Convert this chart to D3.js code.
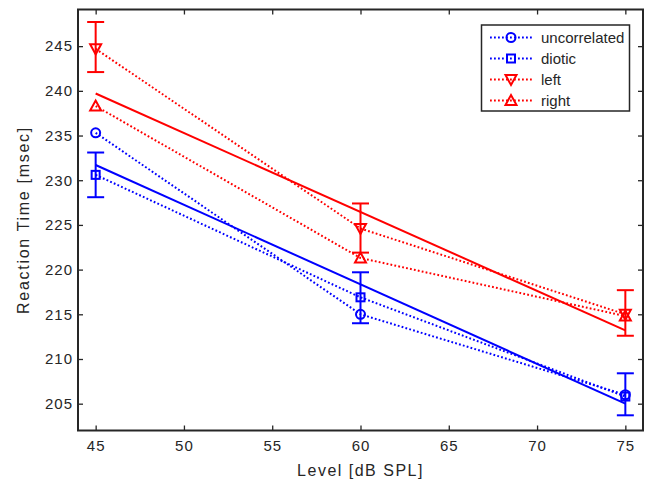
<!DOCTYPE html>
<html><head><meta charset="utf-8">
<script src="https://cdn.jsdelivr.net/npm/d3@7"></script>
<style>body{margin:0;background:#fff}svg{display:block}text{font-family:"Liberation Sans",Arial,Helvetica,sans-serif;fill:#262626}</style>
</head><body><svg id="c" width="649" height="485"></svg>
<script>
const levels = [45, 60, 75];
const uncorrelated = [235.3, 215.0, 206.0];
const diotic = [230.6, 216.9, 205.8];
const left = [244.7, 224.6, 215.0];
const right = [238.3, 221.3, 214.8];
const blueFit = [231.7, 205.0];
const redFit = [239.7, 213.2];
const blueErrLow = [228.1, 214.0, 203.7];
const blueErrHigh = [233.1, 219.7, 208.4];
const redErrLow = [242.1, 221.9, 212.6];
const redErrHigh = [247.7, 227.4, 217.7];
const xTicks = [45, 50, 55, 60, 65, 70, 75];
const yTicks = [205, 210, 215, 220, 225, 230, 235, 240, 245];
const seriesNames = ["uncorrelated", "diotic", "left", "right"];

const svg = d3.select("#c");
const L = 78, R = 643, T = 9.5, B = 430.5;
const x = d3.scaleLinear().domain([44, 76]).range([L, R]);
const y = d3.scaleLinear().domain([202, 249.1]).range([B, T]);
const dark = "#262626";
const dots = "1.8,2.2";

const series = [
  {name: seriesNames[0], vals: uncorrelated, color: "#0000ff", marker: "circle"},
  {name: seriesNames[1], vals: diotic, color: "#0000ff", marker: "square"},
  {name: seriesNames[2], vals: left, color: "#ff0000", marker: "down"},
  {name: seriesNames[3], vals: right, color: "#ff0000", marker: "up"}
];

function drawMarker(g, type, cx, cy, color) {
  if (type === "circle") g.append("circle").attr("cx", cx).attr("cy", cy).attr("r", 4.5)
    .attr("fill", "none").attr("stroke", color).attr("stroke-width", 2);
  else if (type === "square") g.append("rect").attr("x", cx - 4).attr("y", cy - 4).attr("width", 8).attr("height", 8)
    .attr("fill", "none").attr("stroke", color).attr("stroke-width", 2);
  else if (type === "down") g.append("path").attr("d", `M${cx-5.5},${cy-4.5}L${cx+5.5},${cy-4.5}L${cx},${cy+5.5}Z`)
    .attr("fill", "none").attr("stroke", color).attr("stroke-width", 2);
  else g.append("path").attr("d", `M${cx-5.5},${cy+4.5}L${cx+5.5},${cy+4.5}L${cx},${cy-5.5}Z`)
    .attr("fill", "none").attr("stroke", color).attr("stroke-width", 2);
}

const plot = svg.append("g");
const line = d3.line().x(d => x(d[0])).y(d => y(d[1]));
plot.append("path").attr("d", line([[45, blueFit[0]], [75, blueFit[1]]])).attr("stroke", "#0000ff").attr("stroke-width", 2).attr("fill", "none");
plot.append("path").attr("d", line([[45, redFit[0]], [75, redFit[1]]])).attr("stroke", "#ff0000").attr("stroke-width", 2).attr("fill", "none");

function errBars(lo, hi, color) {
  levels.forEach((lv, i) => {
    const cx = x(lv);
    plot.append("line").attr("x1", cx).attr("x2", cx).attr("y1", y(lo[i])).attr("y2", y(hi[i])).attr("stroke", color).attr("stroke-width", 2);
    [lo[i], hi[i]].forEach(v => plot.append("line").attr("x1", cx - 8.5).attr("x2", cx + 8.5).attr("y1", y(v)).attr("y2", y(v)).attr("stroke", color).attr("stroke-width", 2));
  });
}
errBars(blueErrLow, blueErrHigh, "#0000ff");
errBars(redErrLow, redErrHigh, "#ff0000");

series.forEach(s => {
  plot.append("path").attr("d", line(levels.map((lv, i) => [lv, s.vals[i]])))
    .attr("stroke", s.color).attr("stroke-width", 2).attr("stroke-dasharray", dots).attr("fill", "none");
  levels.forEach((lv, i) => drawMarker(plot, s.marker, x(lv), y(s.vals[i]), s.color));
});

const ax = svg.append("g");
const tickStyle = g => { g.select(".domain").remove(); g.selectAll("line").attr("stroke", dark).attr("stroke-width", 1.3);
  g.selectAll("text").attr("font-size", 15).attr("letter-spacing", "1px").attr("fill", dark).attr("font-family", "Liberation Sans, Arial, sans-serif"); };
ax.append("g").attr("transform", `translate(0,${B})`).call(d3.axisBottom(x).tickValues(xTicks).tickSizeInner(-5).tickSizeOuter(0).tickPadding(10)).call(tickStyle);
ax.append("g").attr("transform", `translate(0,${T})`).call(d3.axisTop(x).tickValues(xTicks).tickSizeInner(-5).tickSizeOuter(0).tickFormat("")).call(tickStyle);
ax.append("g").attr("transform", `translate(${L},0)`).call(d3.axisLeft(y).tickValues(yTicks).tickSizeInner(-5).tickSizeOuter(0).tickPadding(5)).call(tickStyle);
ax.append("g").attr("transform", `translate(${R},0)`).call(d3.axisRight(y).tickValues(yTicks).tickSizeInner(-5).tickSizeOuter(0).tickFormat("")).call(tickStyle);
ax.append("rect").attr("x", L).attr("y", T).attr("width", R - L).attr("height", B - T).attr("fill", "none").attr("stroke", dark).attr("stroke-width", 2);

svg.append("text").attr("x", (L + R) / 2).attr("y", 476).attr("text-anchor", "middle").attr("font-size", 16).attr("letter-spacing", "1.5px").text("Level [dB SPL]");
svg.append("text").attr("transform", `translate(28.5,${(T + B) / 2}) rotate(-90)`).attr("text-anchor", "middle").attr("font-size", 16).attr("letter-spacing", "1.7px").text("Reaction Time [msec]");

const lg = svg.append("g");
lg.append("rect").attr("x", 481.5).attr("y", 25).attr("width", 148).attr("height", 86).attr("fill", "#fff").attr("stroke", dark).attr("stroke-width", 1.5);
series.forEach((s, i) => {
  const yy = 37.5 + i * 21;
  lg.append("line").attr("x1", 490).attr("x2", 532).attr("y1", yy).attr("y2", yy).attr("stroke", s.color).attr("stroke-width", 2).attr("stroke-dasharray", dots);
  drawMarker(lg, s.marker, 511, yy, s.color);
  lg.append("text").attr("x", 541).attr("y", yy + 5).attr("font-size", 15).text(s.name);
});
</script></body></html>
